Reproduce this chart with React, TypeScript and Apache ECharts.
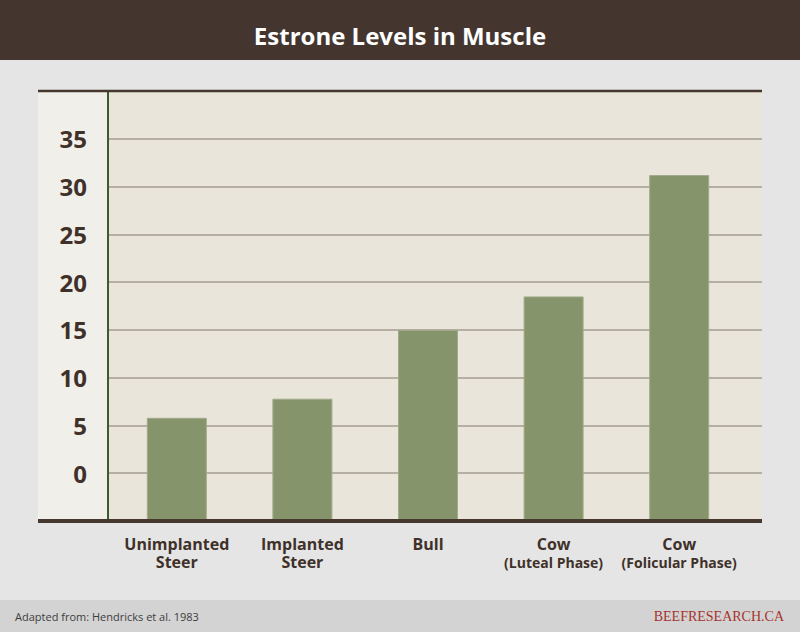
import React, { useEffect, useRef } from 'react';
import * as echarts from 'echarts';

// Estrone levels
const categories = [
  'Unimplanted\nSteer',
  'Implanted\nSteer',
  'Bull',
  'Cow\n(Luteal Phase)',
  'Cow\n(Folicular Phase)',
];
const estroneValues = [5.8, 7.8, 15.0, 18.5, 31.2];
const yTicks = [0, 5, 10, 15, 20, 25, 30, 35];

const Y_MIN = -5;
const Y_MAX = 40;
const Y_STEP = 5;

const TEXT_DARK = '#3f3129';
const FONT = '"Open Sans", "Noto Sans", sans-serif';

const EstroneChart: React.FC = () => {
  const chartRef = useRef<HTMLDivElement>(null);

  useEffect(() => {
    if (!chartRef.current) return;

    const chart = echarts.init(chartRef.current, null, { renderer: 'svg' });

    const option: echarts.EChartsOption = {
      animation: false,
      backgroundColor: '#e5e5e5',
      title: {
        text: 'Estrone Levels in Muscle',
        left: 'center',
        top: 18,
        textStyle: {
          color: '#ffffff',
          fontFamily: FONT,
          fontWeight: 'bold',
          fontSize: 24,
        },
      },
      graphic: [
        // header band
        { type: 'rect', z: -10, shape: { x: 0, y: 0, width: 800, height: 60 }, style: { fill: '#44362f' } },
        // left label strip and plot background
        { type: 'rect', z: -10, shape: { x: 38, y: 91, width: 70, height: 430 }, style: { fill: '#f0efe9' } },
        { type: 'rect', z: -10, shape: { x: 108, y: 91, width: 654, height: 430 }, style: { fill: '#e9e5da' } },
        // top and bottom rules
        { type: 'line', z: 100, shape: { x1: 38, y1: 91, x2: 762, y2: 91 }, style: { stroke: '#46372f', lineWidth: 2.5 } },
        { type: 'line', z: 100, shape: { x1: 38, y1: 521, x2: 762, y2: 521 }, style: { stroke: '#46372f', lineWidth: 4 } },
        // footer
        { type: 'rect', z: -10, shape: { x: 0, y: 600, width: 800, height: 32 }, style: { fill: '#d3d3d3' } },
        {
          type: 'text',
          z: 100,
          style: {
            text: 'Adapted from: Hendricks et al. 1983',
            x: 15,
            y: 616,
            fill: '#3d3d3d',
            font: `11px ${FONT}`,
            align: 'left',
            verticalAlign: 'middle',
          },
        },
        {
          type: 'text',
          z: 100,
          style: {
            text: 'BEEFRESEARCH.CA',
            x: 784,
            y: 616,
            fill: '#a6332d',
            font: '14px "Liberation Serif", "DejaVu Serif", serif',
            align: 'right',
            verticalAlign: 'middle',
          },
        },
      ],
      grid: [
        // value grid: labels and gridlines across the full plot width
        { left: 108, right: 38, top: 91, bottom: 111 },
        // bar grid: category bands
        { left: 114, width: 628, top: 91, bottom: 111 },
      ],
      xAxis: [
        { gridIndex: 0, type: 'value', min: 0, max: 1, show: false },
        {
          gridIndex: 1,
          type: 'category',
          data: categories,
          axisLine: { show: false },
          axisTick: { show: false },
          axisLabel: {
            margin: 14,
            interval: 0,
            formatter: (value: string) =>
              value
                .split('\n')
                .map((line) => (line.startsWith('(') ? `{b|${line}}` : `{a|${line}}`))
                .join('\n'),
            rich: {
              a: { fontFamily: FONT, fontWeight: 'bold', fontSize: 16, color: TEXT_DARK, lineHeight: 18 },
              b: { fontFamily: FONT, fontWeight: 'bold', fontSize: 14, color: TEXT_DARK, lineHeight: 18 },
            },
          },
        },
      ],
      yAxis: [
        {
          gridIndex: 0,
          type: 'value',
          min: Y_MIN,
          max: Y_MAX,
          interval: Y_STEP,
          axisLine: { show: true, lineStyle: { color: '#3c5b2a', width: 2 } },
          axisTick: { show: false },
          axisLabel: {
            margin: 21,
            color: TEXT_DARK,
            fontFamily: FONT,
            fontWeight: 'bold',
            fontSize: 24,
            formatter: (v: number) => (yTicks.includes(v) ? String(v) : ''),
          },
          splitLine: { show: true, lineStyle: { color: '#b5aea2', width: 2 } },
        },
        {
          gridIndex: 1,
          type: 'value',
          min: 0,
          max: Y_MAX - Y_MIN,
          show: false,
        },
      ],
      series: [
        {
          name: 'Estrone',
          type: 'bar',
          xAxisIndex: 1,
          yAxisIndex: 1,
          barWidth: 60,
          // bars rise from the bottom of the axis (Y_MIN), so shift onto the hidden axis
          data: estroneValues.map((v) => v - Y_MIN),
          itemStyle: { color: '#85946a', borderColor: '#a0aa8a', borderWidth: 1 },
        },
      ],
    };

    chart.setOption(option);

    const handleResize = () => {
      chart.resize();
    };
    window.addEventListener('resize', handleResize);

    return () => {
      window.removeEventListener('resize', handleResize);
      chart.dispose();
    };
  }, []);

  return (
    <div
      ref={chartRef}
      style={{ position: 'fixed', left: 0, top: 0, width: '800px', height: '632px' }}
    />
  );
};

export default function App() {
  return <EstroneChart />;
}
